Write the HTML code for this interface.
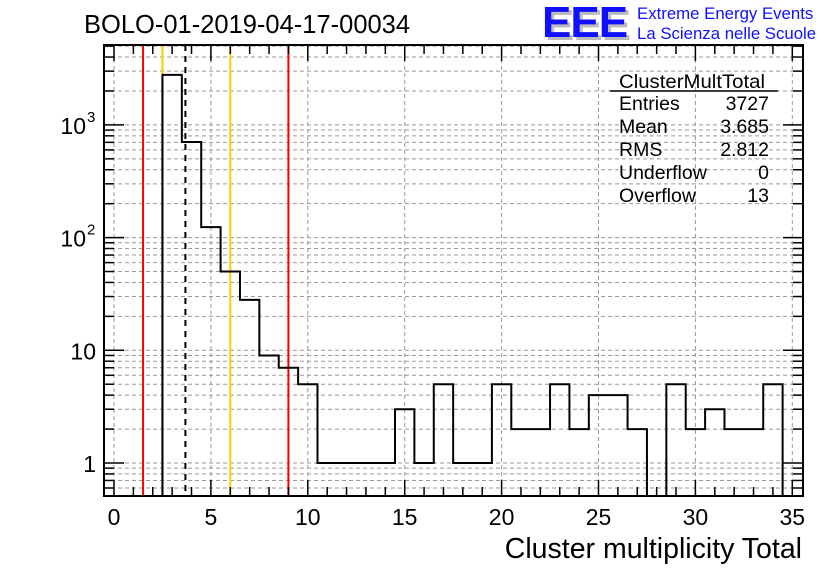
<!DOCTYPE html>
<html><head><meta charset="utf-8"><style>
body{margin:0;background:#fff;}
svg{display:block;font-family:"Liberation Sans",Arial,sans-serif;}
</style></head><body>
<svg id="chart" width="836" height="572" viewBox="0 0 836 572" xmlns="http://www.w3.org/2000/svg">
<text x="84" y="33" font-size="25.5">BOLO-01-2019-04-17-00034</text>
<g>
<text x="545" y="40" font-size="44" font-weight="bold" fill="#bbb" letter-spacing="-1">EEE</text>
<text x="542" y="37" font-size="44" font-weight="bold" fill="#1010ff" letter-spacing="-1">EEE</text>
<text x="637" y="19" font-size="16.8" fill="#1010ff">Extreme Energy Events</text>
<text x="637" y="39" font-size="16.8" fill="#1010ff">La Scienza nelle Scuole</text>
</g>
<g id="grid"></g>
<g id="lines"></g>
<g id="hist"></g>
<g id="axes"></g>
<g font-size="19.5">
<text x="619" y="88" textLength="146" lengthAdjust="spacingAndGlyphs">ClusterMultTotal</text>
<line x1="610" y1="91" x2="778" y2="91" stroke="#000" stroke-width="1.5"/>
<text x="619" y="110">Entries</text><text x="769" y="110" text-anchor="end">3727</text>
<text x="619" y="133">Mean</text><text x="769" y="133" text-anchor="end">3.685</text>
<text x="619" y="156">RMS</text><text x="769" y="156" text-anchor="end">2.812</text>
<text x="619" y="179">Underflow</text><text x="769" y="179" text-anchor="end">0</text>
<text x="619" y="202">Overflow</text><text x="769" y="202" text-anchor="end">13</text>
</g>
<text x="802" y="558" font-size="28.5" text-anchor="end">Cluster multiplicity Total</text>
</svg>
<script>
const binCenters=[0,1,2,3,4,5,6,7,8,9,10,11,12,13,14,15,16,17,18,19,20,21,22,23,24,25,26,27,28,29,30,31,32,33,34];
const counts=[0,0,0,2780,705,124,50,28,9,7,5,1,1,1,1,3,1,5,1,1,5,2,2,5,2,4,4,2,0,5,2,3,2,2,5];
const xTicks=[0,5,10,15,20,25,30,35];
const yTicks=[1,10,100,1000];
const yTickExps=["","","2","3"];
const cutLines=[{v:1.5,c:"#ff0000"},{v:2.5,c:"#ffcc00"},{v:3.685,c:"#000",d:true},{v:6,c:"#ffcc00"},{v:9,c:"#ff0000"}];
const L=104,R=803,T=45,B=496;
const X=v=>114+v*19.38;
const Y=v=>463-Math.log10(v)*112.7;
const NS="http://www.w3.org/2000/svg";
function mk(p,tag,a){const e=document.createElementNS(NS,tag);for(const k in a)e.setAttribute(k,a[k]);p.appendChild(e);return e;}
const grid=document.getElementById('grid'),axes=document.getElementById('axes'),hist=document.getElementById('hist'),lines=document.getElementById('lines');
xTicks.forEach(t=>{const x=X(t);if(x>L&&x<R){const g=mk(grid,'line',{x1:x,x2:x,y1:T,y2:B,stroke:'#999','stroke-dasharray':'4,3','stroke-width':1});

}});
for(let d=0.1;d<=1000;d*=10){for(let m=1;m<10;m++){const v=Math.round(d*m*1000)/1000;const y=Y(v);if(y>T+1&&y<B-1){
const g=mk(grid,'line',{x1:L,x2:R,y1:y,y2:y,stroke:'#999','stroke-dasharray':'4,3','stroke-width':1});


const a=mk(axes,'line',{x1:L,x2:L+(m==1?20:10),y1:y,y2:y,stroke:'#000','stroke-width':1.5});


const b=mk(axes,'line',{x1:R,x2:R-(m==1?20:10),y1:y,y2:y,stroke:'#000','stroke-width':1.5});

}}}
cutLines.forEach(c=>{const x=X(c.v);const a={x1:x,x2:x,y1:T,y2:B,stroke:c.c,'stroke-width':2};if(c.d)a['stroke-dasharray']='6,5';
const e=mk(lines,'line',a);

});
let d='';binCenters.forEach((c,i)=>{const v=counts[i];const y=v>0?Y(v):B;const x0=X(c-0.5),x1=X(c+0.5);d+=(i==0?'M'+x0+','+y:'L'+x0+','+y)+'L'+x1+','+y;});
d+='L'+X(binCenters[binCenters.length-1]+0.5)+','+B;
const h=mk(hist,'path',{d:d,fill:'none',stroke:'#000','stroke-width':2});


const f=mk(axes,'rect',{x:L,y:T,width:R-L,height:B-T,fill:'none',stroke:'#000','stroke-width':2});


for(let v=0;v<=35;v++){const x=X(v);const len=v%5==0?16:9;
const t=mk(axes,'line',{x1:x,x2:x,y1:B,y2:B-len,stroke:'#000','stroke-width':1.5});


const t2=mk(axes,'line',{x1:x,x2:x,y1:T,y2:T+len,stroke:'#000','stroke-width':1.5});

}
xTicks.forEach(t=>{const e=mk(axes,'text',{x:X(t),y:525,'font-size':23,'text-anchor':'middle'});e.textContent=t;

});
yTicks.forEach((t,i)=>{const ex=yTickExps[i];
const e=mk(axes,'text',{x:ex?86:96,y:Y(t)+9,'font-size':23,'text-anchor':'end'});
e.textContent=ex?'10':String(t);


if(ex){const s=mk(axes,'text',{x:87,y:Y(t)-3,'font-size':15});s.textContent=ex;

}});
</script>
</body></html>
